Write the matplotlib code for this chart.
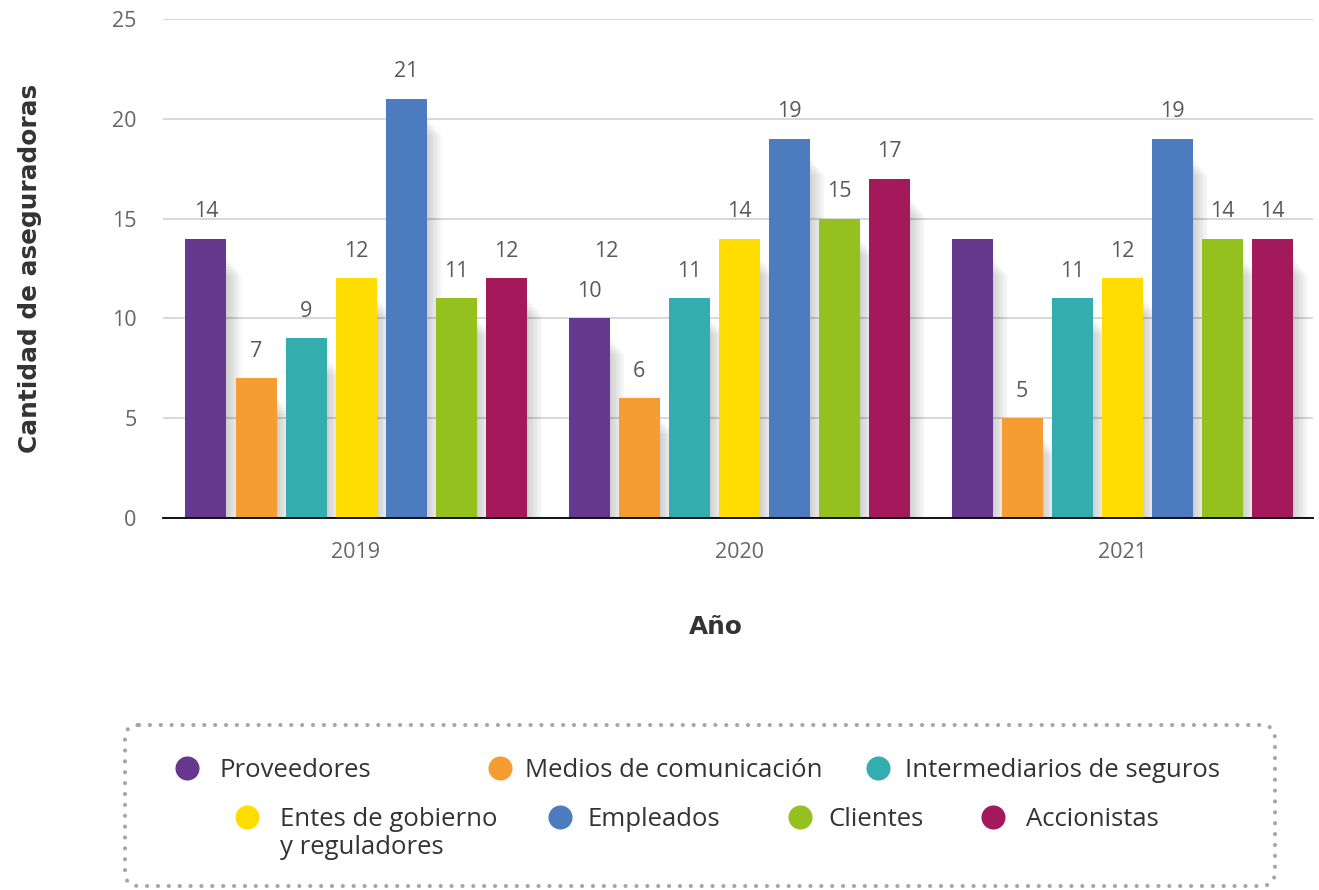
import matplotlib
matplotlib.use("Agg")
import matplotlib.pyplot as plt
from matplotlib.patches import Rectangle, FancyBboxPatch
import numpy as np

# ---------------- data ----------------
years = ["2019", "2020", "2021"]
series = ["Proveedores", "Medios de comunicación", "Intermediarios de seguros",
          "Entes de gobierno\ny reguladores", "Empleados", "Clientes", "Accionistas"]
colors = ["#67398E", "#F59C33", "#33ADAD", "#FFDD00", "#4C7CBF", "#95C11F", "#A3195B"]
values = [
    [14, 10, 14],   # Proveedores
    [7, 6, 5],      # Medios de comunicación
    [9, 11, 11],    # Intermediarios de seguros
    [12, 14, 12],   # Entes de gobierno y reguladores
    [21, 19, 19],   # Empleados
    [11, 15, 14],   # Clientes
    [12, 17, 14],   # Accionistas
]
# labels shown on the chart (None = no label visible)
shown_labels = [
    [14, 10, None],
    [7, 6, 5],
    [9, 11, 11],
    [12, 14, 12],
    [21, 19, 19],
    [11, 15, 14],
    [12, 17, 14],
]
# stray label visible in 2020 group, between first two bars
stray_label = {"year": 1, "value": 12, "pos": 0.35}
yticks = [0, 5, 10, 15, 20, 25]
xlabel = "Año"
ylabel = "Cantidad de aseguradoras"

# ---------------- figure ----------------
W, H = 1319, 890
fig = plt.figure(figsize=(W / 100, H / 100), dpi=100)
ax = fig.add_axes([163 / W, 1 - 518 / H, 1150 / W, 499 / H])

n = len(series)
step = 50 / 383
bw = 41 / 383
x = np.arange(len(years))
px = 1 / 383      # one pixel in x data units
py = 25 / 499     # one pixel in y data units

LABEL_FS = 15.5
for i in range(n):
    xs = x + (i - 3) * step
    # soft shadow
    for k in range(1, 13):
        for xi, v in zip(xs, values[i]):
            ax.add_patch(Rectangle((xi - bw / 2 + k * 1.3 * px, 0), bw,
                                   max(v - (18 + k * 1.5) * py, 0),
                                   facecolor="black", alpha=0.016, lw=0, zorder=1.5))
    ax.bar(xs, values[i], width=bw, color=colors[i], zorder=3)
    for xi, v, lab in zip(xs, values[i], shown_labels[i]):
        if lab is not None:
            ax.annotate(str(lab), (xi, v), xytext=(0, 19.5), textcoords="offset points",
                        ha="center", va="center", fontsize=LABEL_FS, color="#595959",
                        family="Open Sans")

sx = x[stray_label["year"]] + (stray_label["pos"] - 3) * step
ax.annotate(str(stray_label["value"]), (sx, stray_label["value"]), xytext=(0, 19.5),
            textcoords="offset points", ha="center", va="center", fontsize=LABEL_FS,
            color="#595959", family="Open Sans")

ax.set_xlim(-193 / 383, 957 / 383)
ax.set_ylim(0, 25)
ax.set_yticks(yticks)
ax.set_xticks(x)
ax.set_xticklabels(years)
ax.yaxis.grid(True, color="#D9D9D9", lw=1.5, zorder=0)
ax.set_axisbelow(True)
for s in ["left", "right", "top"]:
    ax.spines[s].set_visible(False)
ax.spines["bottom"].set_color("black")
ax.spines["bottom"].set_linewidth(1.3)
ax.spines["bottom"].set_zorder(4)
ax.tick_params(axis="both", length=0, labelsize=15.5, labelcolor="#666666")
ax.tick_params(axis="y", pad=19)
ax.tick_params(axis="x", pad=17)
for t in ax.get_xticklabels() + ax.get_yticklabels():
    t.set_family("Open Sans")

fig.text(30 / W, 1 - 268 / H, ylabel, rotation=90, ha="center", va="center",
         fontsize=17.8, fontweight="bold", color="#333333", family="DejaVu Sans")
fig.text(716 / W, 1 - 627 / H, xlabel, ha="center", va="center",
         fontsize=17.8, fontweight="bold", color="#333333", family="DejaVu Sans")

# ---------------- legend ----------------
lax = fig.add_axes([0, 0, 1, 1])
lax.set_xlim(0, W)
lax.set_ylim(H, 0)
lax.axis("off")
box = FancyBboxPatch((125, 725), 1150, 161, boxstyle="round,pad=0,rounding_size=14",
                     facecolor="none", edgecolor="#A6A6A6", lw=3,
                     linestyle=(0, (0.01, 2.6)))
box.set_capstyle("round")
lax.add_patch(box)

LEG_FS = 18.5
leg_pos = [(187, 768, 219), (500, 768, 525), (878, 768, 905),
           (247, 817, 280), (560, 817, 587), (800, 817, 828), (993, 817, 1026)]
for (cx, cy, tx), name, c in zip(leg_pos, series, colors):
    lax.scatter([cx], [cy], s=300, color=c, zorder=3, linewidths=0)
    for j, line in enumerate(name.split("\n")):
        lax.text(tx, cy + 9 + j * 28, line, ha="left", va="baseline", fontsize=LEG_FS,
                 color="#333333", family="Open Sans")

fig.savefig("out.png", dpi=100)
